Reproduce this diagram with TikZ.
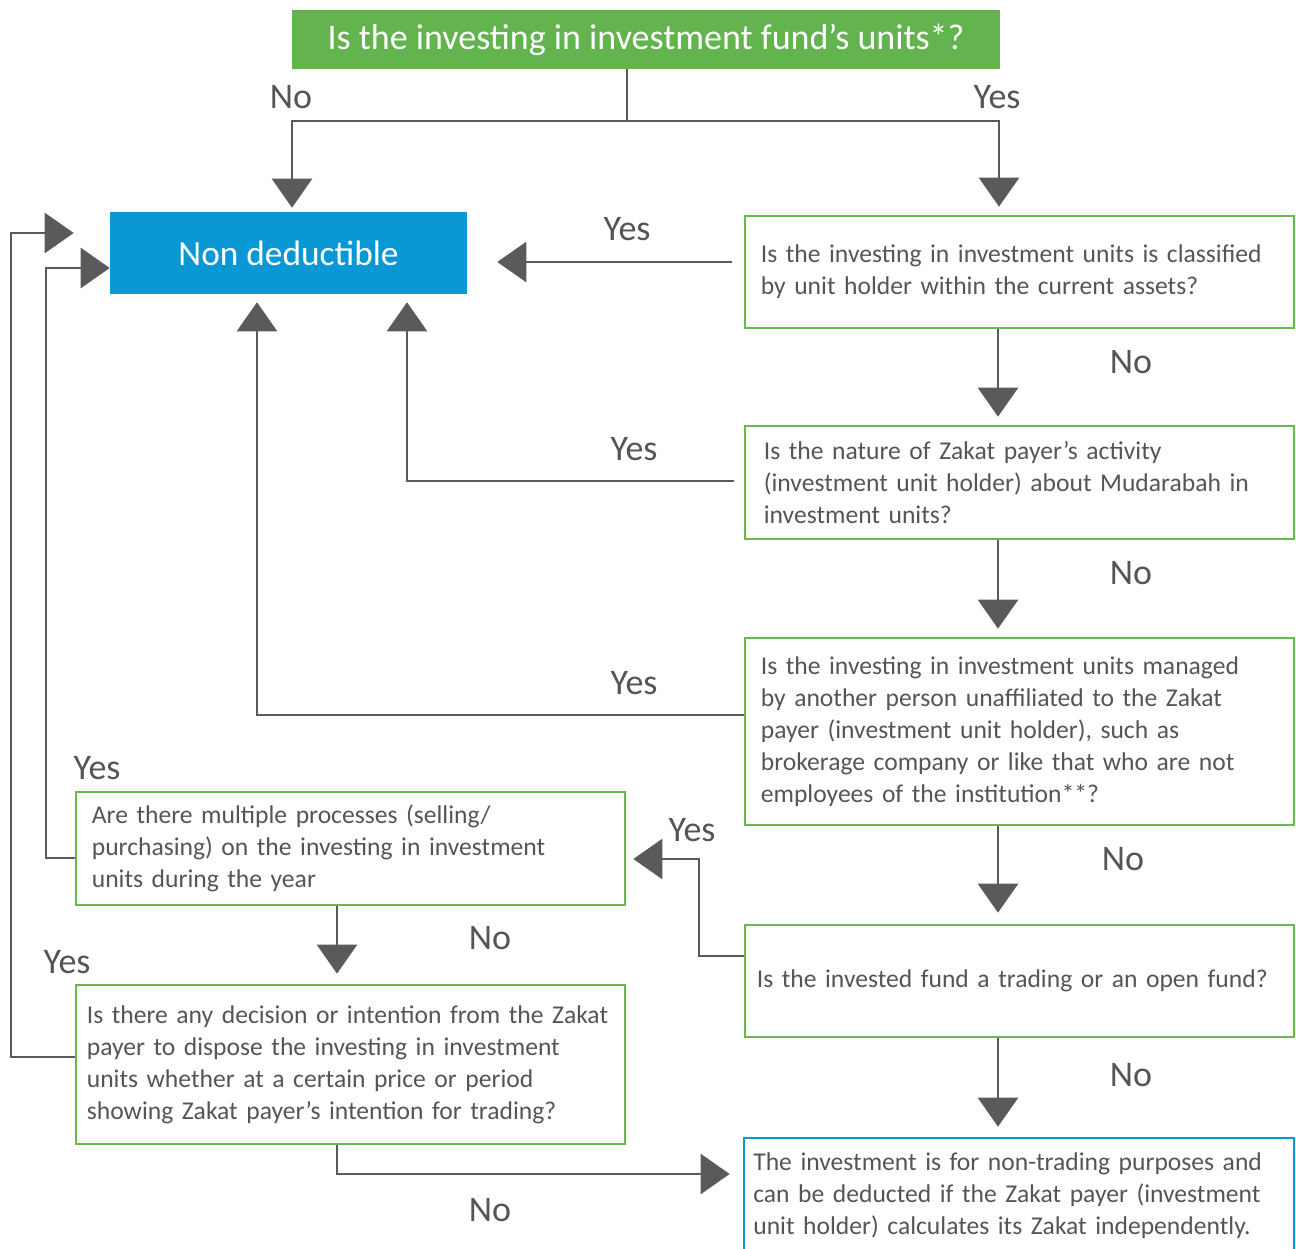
\documentclass[tikz,border=0pt]{standalone}
\usepackage{fontspec}
\setmainfont{Carlito}
\newfontfamily\boxfont{Carlito}[WordSpace=0.8]
\usetikzlibrary{arrows.meta,calc}
\definecolor{gline}{HTML}{6AB94F}
\definecolor{gfill}{HTML}{63B34F}
\definecolor{bfill}{HTML}{0A98D4}
\definecolor{agray}{HTML}{5A5A5A}
\definecolor{tgray}{HTML}{555555}
\tikzset{
  qbox/.style={draw=gline, line width=2pt, minimum width=411.75pt, text width=400pt, inner xsep=5.875pt, align=left, text=tgray, font=\boxfont\fontsize{19.2}{24}\selectfont},
  conn/.style={draw=agray, line width=1.9pt},
  arr/.style={conn, -{Triangle[length=21.75pt,width=30pt]}},
  lbl/.style={text=tgray, font=\fontsize{27}{30}\selectfont, inner sep=0pt},
}
\begin{document}
\begin{tikzpicture}[x=0.75pt,y=-0.75pt]
\useasboundingbox (0,0) rectangle (1296,1249);
% nodes
\node[fill=gfill, minimum width=531pt, minimum height=44.25pt, text=white, font=\fontsize{27}{30}\selectfont] (top) at (646,39.5) {Is the investing in investment fund’s units*?};
\node[fill=bfill, minimum width=267.75pt, minimum height=61.5pt, text=white, font=\fontsize{26.5}{30}\selectfont] (nd) at (288.5,253) {Non deductible};
\node[qbox, minimum height=84pt] (b1) at (1019.5,272) {\hspace*{6pt}Is the investing in investment units is classified\\\hspace*{6pt}by unit holder within the current assets?};
\node[qbox, minimum height=84.75pt] (b2) at (1019.5,482.5) {\hspace*{8.25pt}Is the nature of Zakat payer’s activity\\\hspace*{8.25pt}(investment unit holder) about Mudarabah in\\\hspace*{8.25pt}investment units?};
\node[qbox, minimum height=140.25pt] (b3) at (1019.5,731.5) {\hspace*{6pt}Is the investing in investment units managed\\\hspace*{6pt}by another person unaffiliated to the Zakat\\\hspace*{6pt}payer (investment unit holder), such as\\\hspace*{6pt}brokerage company or like that who are not\\\hspace*{6pt}employees of the institution**?};
\node[qbox, minimum height=84pt] (b4) at (1019.5,981) {\hspace*{3pt}Is the invested fund a trading or an open fund?};
\node[qbox, draw=bfill, minimum width=412.5pt, minimum height=87pt] (fin) at (1019,1196) {\hspace*{0.75pt}The investment is for non-trading purposes and\\\hspace*{0.75pt}can be deducted if the Zakat payer (investment\\\hspace*{0.75pt}unit holder) calculates its Zakat independently.};
\node[qbox, minimum height=84.75pt] (l1) at (350.5,848.5) {\hspace*{6pt}Are there multiple processes (selling/\\\hspace*{6pt}purchasing) on the investing in investment\\\hspace*{6pt}units during the year};
\node[qbox, minimum height=119.25pt] (l2) at (350.5,1064.5) {\hspace*{2.25pt}Is there any decision or intention from the Zakat\\\hspace*{2.25pt}payer to dispose the investing in investment\\\hspace*{2.25pt}units whether at a certain price or period\\\hspace*{2.25pt}showing Zakat payer’s intention for trading?};
% helper coordinates
\coordinate (j) at (627,121);
\coordinate (x292) at (292,0);
\coordinate (x999) at (999,0);
\coordinate (x998) at (998,0);
\coordinate (x407) at (407,0);
\coordinate (x257) at (257,0);
\coordinate (x699) at (699,0);
\coordinate (x46) at (46,0);
\coordinate (x11) at (11,0);
\coordinate (x337) at (337,0);
\coordinate (y262) at (0,262);
\coordinate (y481) at (0,481);
\coordinate (y715) at (0,715);
\coordinate (y956) at (0,956);
\coordinate (y859) at (0,859);
\coordinate (y858) at (0,858);
\coordinate (y268) at (0,268);
\coordinate (y1057) at (0,1057);
\coordinate (y233) at (0,233);
\coordinate (y1174) at (0,1174);
% connectors
\draw[conn] (top.south -| j) -- (j);
\draw[arr, shorten >=3pt] (j) -| (x292 |- nd.north);
\draw[arr, shorten >=6pt] (j) -| (x999 |- b1.north);
\draw[arr, shorten <=9pt, shorten >=22.5pt] (b1.west |- y262) -- (nd.east |- y262);
\draw[arr, shorten >=6pt] (x998 |- b1.south) -- (x998 |- b2.north);
\draw[arr, shorten <=7.5pt, shorten >=6pt] (b2.west |- y481) -| (x407 |- nd.south);
\draw[arr, shorten >=6pt] (x998 |- b2.south) -- (x998 |- b3.north);
\draw[arr, shorten >=6pt] (b3.west |- y715) -| (x257 |- nd.south);
\draw[arr, shorten >=8.25pt] (x998 |- b3.south) -- (x998 |- b4.north);
\draw[arr, shorten >=5.25pt] (b4.west |- y956) -- (x699 |- y956) -- (x699 |- y859) -- (l1.east |- y859);
\draw[arr, shorten >=7.5pt] (x998 |- b4.south) -- (x998 |- fin.north);
\draw[arr] (l1.west |- y858) -| (x46 |- y268) -- (nd.west |- y268);
\draw[arr, shorten >=7.5pt] (x337 |- l1.south) -- (x337 |- l2.north);
\draw[arr, shorten >=27pt] (l2.west |- y1057) -| (x11 |- y233) -- (nd.west |- y233);
\draw[arr, shorten >=9.75pt] (x337 |- l2.south) |- (fin.west |- y1174);
% labels
\node[lbl] (n1) at (291,97) {No};
\node[lbl] (n2) at (997,97) {Yes};
\node[lbl] (n3) at (627,229) {Yes};
\node[lbl] (n4) at (1131,362) {No};
\node[lbl] (n5) at (634,449) {Yes};
\node[lbl] (n6) at (1131,573) {No};
\node[lbl] (n7) at (634,683) {Yes};
\node[lbl] (n8) at (1123,859) {No};
\node[lbl] (n9) at (692,830) {Yes};
\node[lbl] (n10) at (1131,1075) {No};
\node[lbl] (n11) at (97,768) {Yes};
\node[lbl] (n12) at (490,938) {No};
\node[lbl] (n13) at (67,962) {Yes};
\node[lbl] (n14) at (490,1210) {No};
\end{tikzpicture}
\end{document}
